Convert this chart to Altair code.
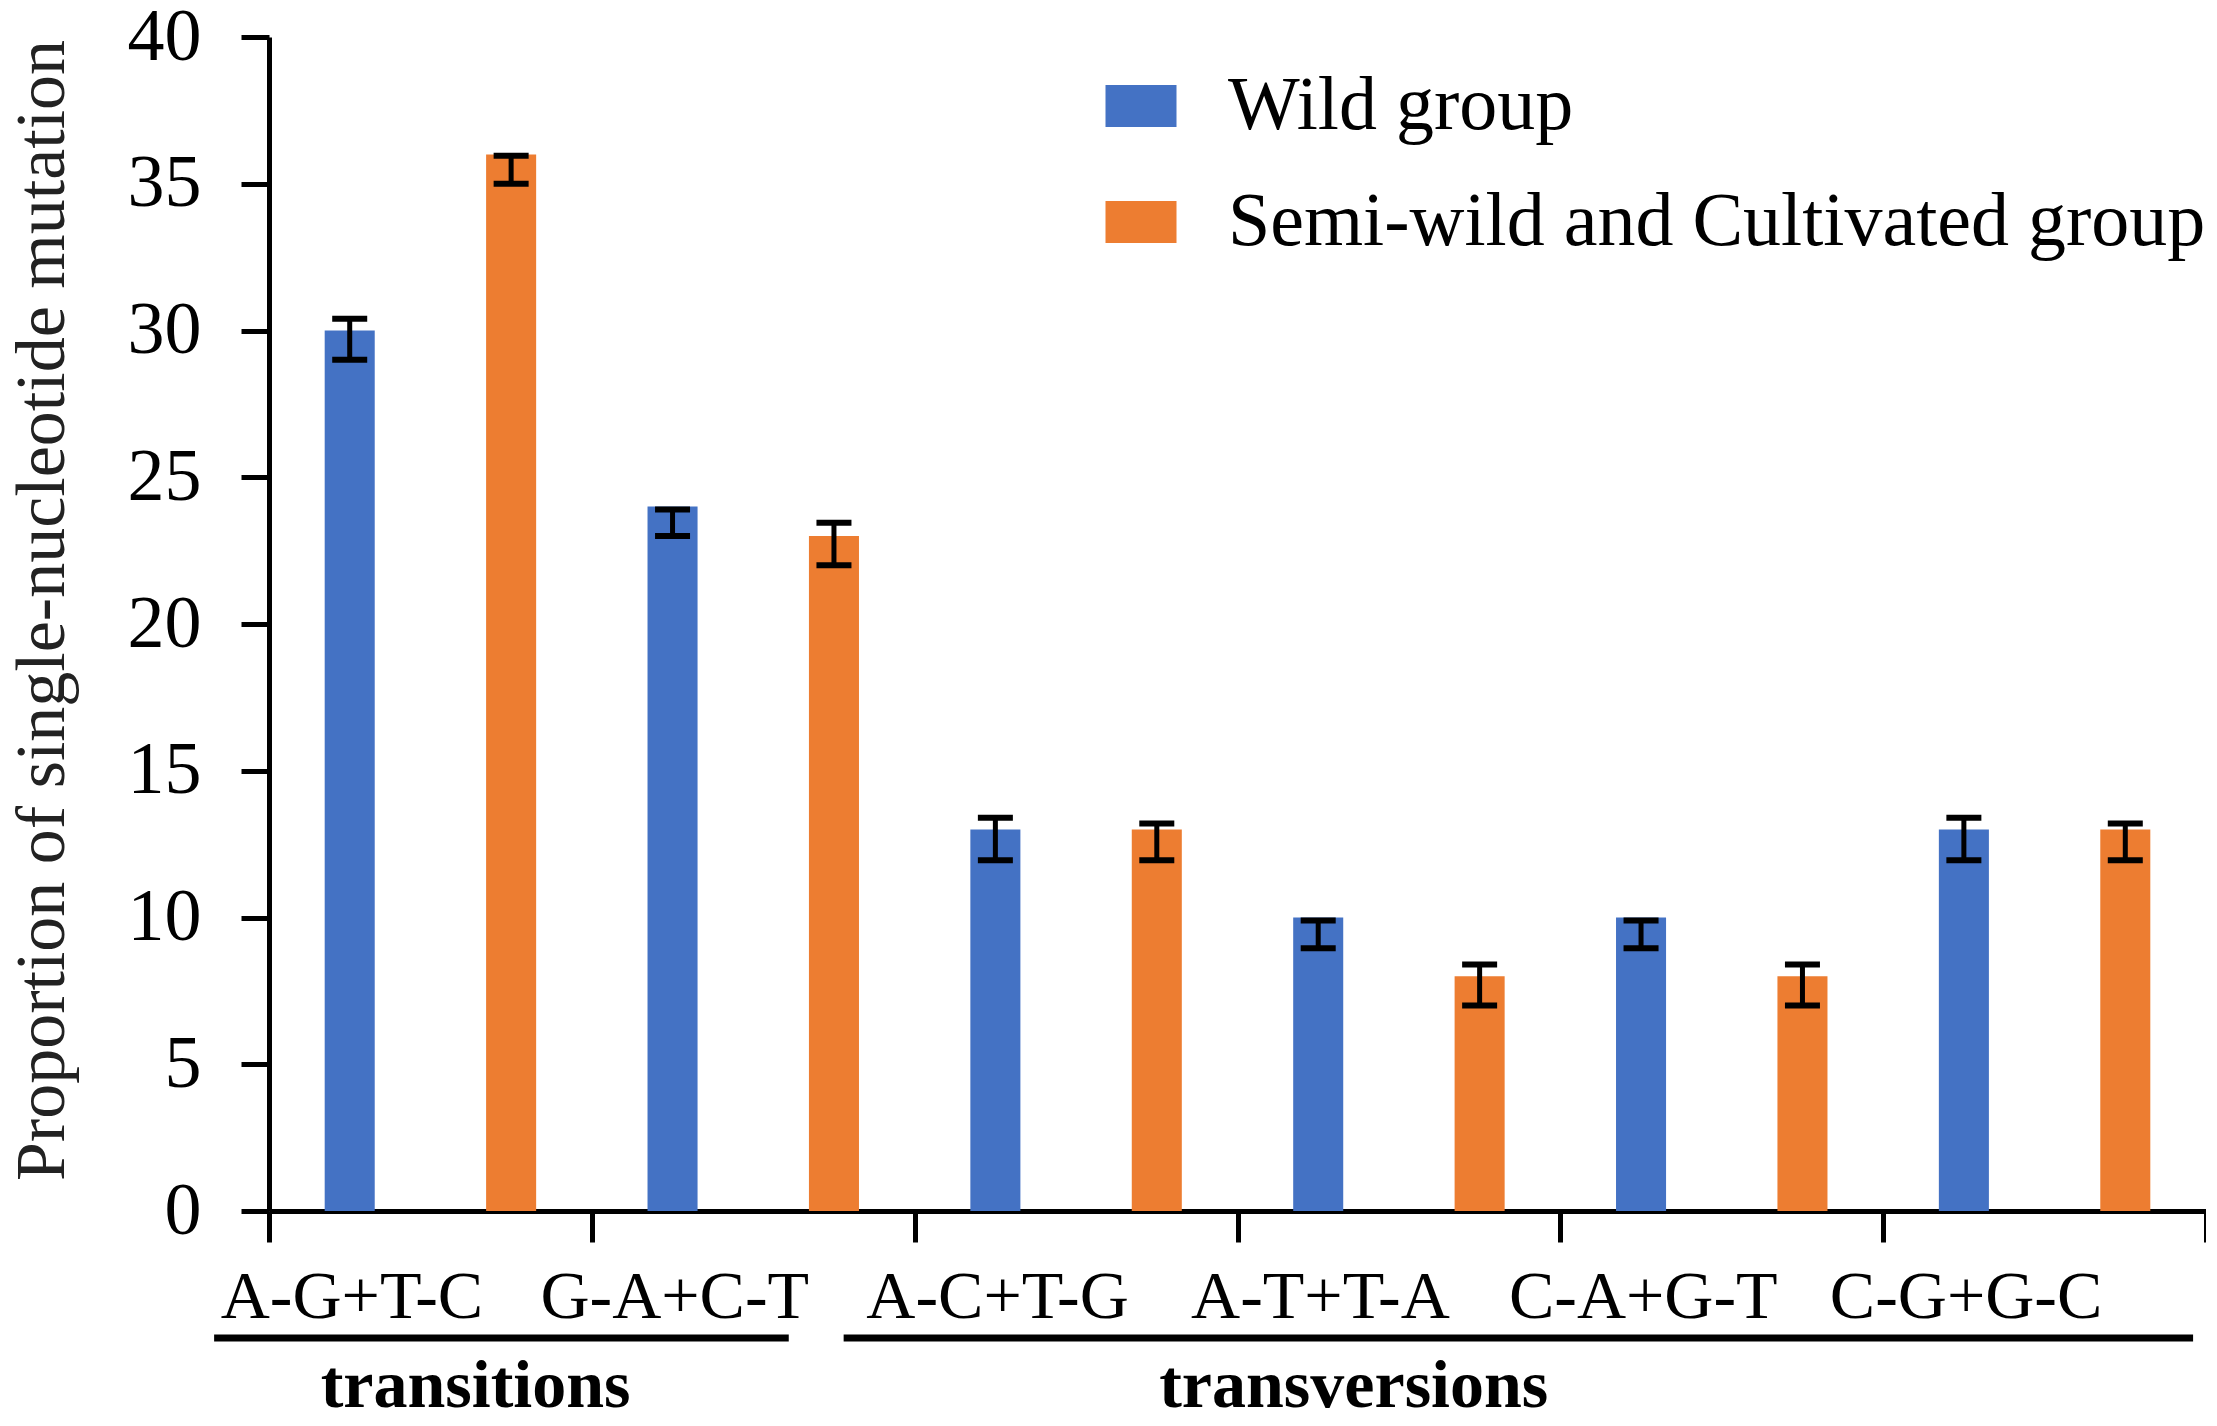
import altair as alt
import pandas as pd

categories = ["A-G+T-C", "G-A+C-T", "A-C+T-G", "A-T+T-A", "C-A+G-T", "C-G+G-C"]
series = ["Wild group", "Semi-wild and Cultivated group"]
wild = [30, 24, 13, 10, 10, 13]
semi = [36, 23, 13, 8, 8, 13]
wild_err_low = [29.0, 23.0, 11.95, 8.95, 8.95, 11.95]
wild_err_high = [30.4, 23.9, 13.4, 9.9, 9.9, 13.4]
semi_err_low = [35.0, 22.0, 11.95, 7.0, 7.0, 11.95]
semi_err_high = [35.95, 23.45, 13.2, 8.4, 8.4, 13.2]
y_ticks = [0, 5, 10, 15, 20, 25, 30, 35, 40]

# category groups, in category-index units along the x axis
groups = ["transitions", "transversions"]
group_start = [-0.17, 1.78]
group_end = [1.61, 5.96]
group_mid = [0.64, 3.36]

colors = ["#4472C4", "#ED7D31"]
FONT = "Liberation Serif"

rows = []
for i, c in enumerate(categories):
    rows.append({"cat": c, "grp": series[0], "val": wild[i], "lo": wild_err_low[i], "hi": wild_err_high[i]})
    rows.append({"cat": c, "grp": series[1], "val": semi[i], "lo": semi_err_low[i], "hi": semi_err_high[i]})
df = pd.DataFrame(rows)
gdf = pd.DataFrame({"group": groups, "start": group_start, "end": group_end, "mid": group_mid})

W, H = 1937, 1174

xenc = alt.X("cat:N", sort=categories, title=None,
             scale=alt.Scale(paddingInner=0, paddingOuter=0),
             axis=alt.Axis(tickBand="extent", labelAngle=0, labelOffset=-79, labelLimit=1000,
                           labelFont=FONT, labelFontSize=68, labelColor="#000",
                           labelPadding=21, tickSize=31, tickWidth=5, tickColor="#000",
                           domainWidth=5, domainColor="#000"))
xoff = alt.XOffset("grp:N", sort=series,
                   scale=alt.Scale(paddingInner=0.69, paddingOuter=0.345))
yscale = alt.Scale(domain=[0, 40], nice=False)

bars = alt.Chart(df).mark_bar().encode(
    x=xenc,
    xOffset=xoff,
    y=alt.Y("val:Q", scale=yscale,
            title="Proportion of single-nucleotide mutation",
            axis=alt.Axis(values=y_ticks, grid=False, labelFont=FONT, labelFontSize=74,
                          labelColor="#000", labelPadding=40, tickSize=28, tickWidth=5,
                          tickColor="#000", domainWidth=5, domainColor="#000",
                          titleFont=FONT, titleFontSize=70, titleFontWeight="normal",
                          titleColor="#222", titleX=-191, titleY=573)),
    color=alt.Color("grp:N", sort=series, title=None,
                    scale=alt.Scale(domain=series, range=colors),
                    legend=alt.Legend(orient="none", legendX=834, legendY=31,
                                      symbolType="M-1,-0.59H1V0.59H-1Z", symbolSize=5041,
                                      symbolStrokeWidth=0, labelFont=FONT, labelFontSize=76,
                                      labelColor="#000", labelOffset=49, rowPadding=40,
                                      labelLimit=2000)),
)

err_rule = alt.Chart(df).mark_rule(color="#000", strokeWidth=5).encode(
    x=alt.X("cat:N", sort=categories), xOffset=xoff,
    y=alt.Y("lo:Q", scale=yscale), y2="hi:Q")
cap_lo = alt.Chart(df).mark_tick(color="#000", thickness=6, size=35, opacity=1).encode(
    x=alt.X("cat:N", sort=categories), xOffset=xoff, y=alt.Y("lo:Q", scale=yscale))
cap_hi = alt.Chart(df).mark_tick(color="#000", thickness=6, size=35, opacity=1).encode(
    x=alt.X("cat:N", sort=categories), xOffset=xoff, y=alt.Y("hi:Q", scale=yscale))

main = alt.layer(bars, err_rule, cap_lo, cap_hi)

gscale = alt.Scale(domain=[0, len(categories)], nice=False, zero=False)
grp_line = alt.Chart(gdf).mark_rule(color="#000", strokeWidth=7).encode(
    x=alt.X("start:Q", scale=gscale, axis=None), x2="end:Q", y=alt.value(1301))
grp_text = alt.Chart(gdf).mark_text(font=FONT, fontSize=68, fontWeight="bold",
                                    color="#000", baseline="alphabetic", align="center").encode(
    x=alt.X("mid:Q", scale=gscale, axis=None), y=alt.value(1370), text="group:N")

chart = alt.layer(main, grp_line, grp_text).resolve_scale(x="independent").properties(
    width=W, height=H,
    autosize=alt.AutoSizeParams(type="none"),
    padding={"left": 261, "top": 29, "right": 0, "bottom": 207},
).configure_view(stroke=None).configure_axis(grid=False)

chart.save("out.html", embed_options={"renderer": "svg", "actions": False})
